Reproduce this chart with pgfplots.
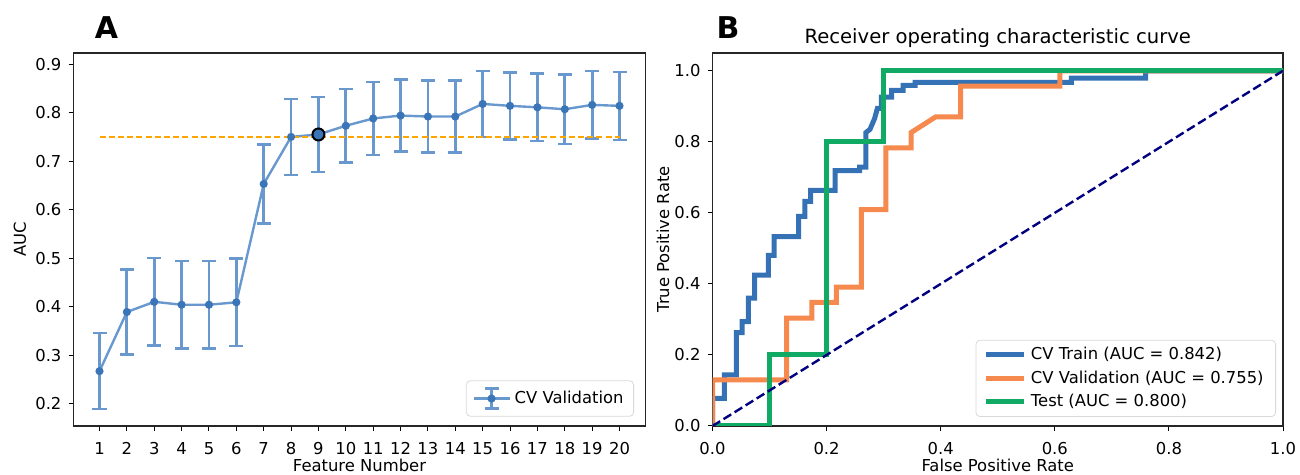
\documentclass[border=0pt]{standalone}
\usepackage{fontspec}
\setmainfont{DejaVu Sans}
\usepackage{pgfplots}
\pgfplotsset{compat=1.18}

\definecolor{errblue}{RGB}{104,152,206}
\definecolor{dotblue}{RGB}{58,117,184}
\definecolor{trainblue}{RGB}{52,114,181}
\definecolor{valorange}{RGB}{245,137,78}
\definecolor{testgreen}{RGB}{16,170,100}
\definecolor{cutorange}{RGB}{255,165,0}

\newcommand{\ticksize}{\fontsize{8.2}{10}\selectfont}

\pgfplotsset{
  panel/.style={
    scale only axis, anchor=south west,
    height=186.5pt,
    tick align=outside, major tick length=2.5pt,
    xtick pos=lower, ytick pos=left,
    tick style={black, line width=0.5pt},
    axis line style={line width=0.6pt, black!85},
    tick label style={font=\ticksize},
    label style={font=\ticksize},
    /pgf/number format/assume math mode=true,
    xticklabel style={anchor=base, yshift=-12pt},
    xlabel style={at={([yshift=-23pt]axis description cs:0.5,0)}, anchor=base},
  },
  onedec/.style={
    /pgf/number format/fixed,
    /pgf/number format/fixed zerofill,
    /pgf/number format/precision=1,
  },
}

\begin{document}
\begin{tikzpicture}
\path[use as bounding box] (0,0) rectangle (650pt,237.5pt);

% panel A: AUC against number of features
\begin{axis}[panel, at={(36.75pt,24.5pt)}, width=286pt,
  xmin=0.05, xmax=20.95, ymin=0.154, ymax=0.923,
  xtick={1,2,3,4,5,6,7,8,9,10,11,12,13,14,15,16,17,18,19,20},
  ytick={0.2,0.3,0.4,0.5,0.6,0.7,0.8,0.9},
  yticklabel style={onedec},
  xlabel={Feature Number}, ylabel={AUC},
  ylabel style={at={([xshift=-26.75pt]axis description cs:0,0.5)}, anchor=center},
  legend style={at={(1,0)}, anchor=south east, xshift=-5.75pt, yshift=4.65pt,
    draw=black!15, rounded corners=2pt, font=\ticksize, inner xsep=3pt, inner ysep=3pt},
]
\addplot[errblue, line width=1.2pt, mark=*, mark size=1.4pt,
  mark options={fill=dotblue, draw=dotblue},
  legend image code/.code={
    \draw[errblue, line width=1.2pt] (0pt,0pt) -- (18pt,0pt);
    \draw[errblue, line width=1.3pt] (9pt,-5pt) -- (9pt,5pt);
    \draw[errblue, line width=1.2pt] (5.5pt,5pt) -- (12.5pt,5pt);
    \draw[errblue, line width=1.2pt] (5.5pt,-5pt) -- (12.5pt,-5pt);
    \fill[dotblue] (9pt,0pt) circle (1.4pt);
  },
  error bars/.cd, y dir=both, y explicit,
  error bar style={errblue, line width=1.4pt},
  error mark options={errblue, line width=1.2pt, mark size=3.5pt, rotate=90},
] coordinates {
  (1,0.267) +- (0,0.0785)
  (2,0.389) +- (0,0.088)
  (3,0.410) +- (0,0.090)
  (4,0.404) +- (0,0.0905)
  (5,0.404) +- (0,0.0905)
  (6,0.409) +- (0,0.090)
  (7,0.653) +- (0,0.0815)
  (8,0.750) +- (0,0.0785)
  (9,0.755) +- (0,0.077)
  (10,0.773) +- (0,0.076)
  (11,0.788) +- (0,0.0755)
  (12,0.794) +- (0,0.074)
  (13,0.792) +- (0,0.074)
  (14,0.792) +- (0,0.074)
  (15,0.818) +- (0,0.068)
  (16,0.814) +- (0,0.069)
  (17,0.811) +- (0,0.070)
  (18,0.807) +- (0,0.0715)
  (19,0.816) +- (0,0.0695)
  (20,0.814) +- (0,0.070)
};
\addlegendentry{CV Validation}
\addplot[cutorange, line width=0.9pt, dash pattern=on 3pt off 1.6pt, forget plot]
  coordinates {(1,0.75) (20,0.75)};
\addplot[only marks, mark=*, mark size=3pt, forget plot,
  mark options={fill=dotblue, draw=black, line width=1pt}]
  coordinates {(9,0.755)};
\end{axis}

% panel B: ROC curves
\begin{axis}[panel, at={(356.25pt,24.5pt)}, width=285.25pt,
  xmin=0, xmax=1, ymin=0, ymax=1.05,
  xtick={0,0.2,0.4,0.6,0.8,1}, ytick={0,0.2,0.4,0.6,0.8,1},
  xticklabel style={onedec}, yticklabel style={onedec},
  xlabel={False Positive Rate}, ylabel={True Positive Rate},
  ylabel style={at={([xshift=-24.75pt]axis description cs:0,0.5)}, anchor=center},
  title={Receiver operating characteristic curve},
  every axis title shift=0pt,
  title style={at={(0.5,1)}, anchor=base, yshift=4.5pt, font=\fontsize{9.8}{12}\selectfont},
  legend style={at={(1,0)}, anchor=south east, xshift=-3.5pt, yshift=4.5pt,
    draw=black!15, rounded corners=2pt, font=\ticksize, row sep=0pt,
    inner xsep=4pt, inner ysep=1.5pt, cells={anchor=west}},
  legend image code/.code={\draw[#1] (0pt,0pt) -- (19pt,0pt);},
  every axis plot/.append style={line width=2.5pt},
]
\addplot[trainblue] coordinates {
  (0,0) (0,0.078) (0.021,0.078) (0.021,0.144) (0.042,0.144) (0.042,0.263)
  (0.052,0.263) (0.052,0.294) (0.063,0.294) (0.063,0.360) (0.074,0.360)
  (0.074,0.425) (0.098,0.425) (0.098,0.480) (0.108,0.480) (0.108,0.533)
  (0.151,0.533) (0.151,0.590) (0.162,0.590) (0.162,0.632) (0.172,0.632)
  (0.172,0.663) (0.215,0.663) (0.215,0.719) (0.258,0.719) (0.258,0.729)
  (0.269,0.729) (0.269,0.826) (0.276,0.835) (0.284,0.865) (0.289,0.894)
  (0.296,0.894) (0.296,0.926) (0.314,0.926) (0.314,0.945) (0.334,0.945)
  (0.334,0.959) (0.355,0.959) (0.355,0.967) (0.629,0.967) (0.629,0.979)
  (0.759,0.979) (0.759,1) (1,1)
};
\addlegendentry{CV Train (AUC = 0.842)}
\addplot[valorange] coordinates {
  (0,0) (0,0.130) (0.130,0.130) (0.130,0.304) (0.174,0.304) (0.174,0.348)
  (0.217,0.348) (0.217,0.391) (0.261,0.391) (0.261,0.609) (0.304,0.609)
  (0.304,0.783) (0.348,0.783) (0.348,0.826) (0.391,0.870) (0.435,0.870)
  (0.435,0.957) (0.609,0.957) (0.609,1) (1,1)
};
\addlegendentry{CV Validation (AUC = 0.755)}
\addplot[testgreen] coordinates {
  (0,0) (0.1,0) (0.1,0.2) (0.2,0.2) (0.2,0.8) (0.3,0.8) (0.3,1) (1,1)
};
\addlegendentry{Test (AUC = 0.800)}
\addplot[color={rgb,255:red,0;green,0;blue,128}, line width=1.2pt,
  dash pattern=on 4.5pt off 2pt, forget plot] coordinates {(0,0) (1,1)};
\end{axis}

\node[font=\fontsize{15}{18}\selectfont\bfseries] at (53.25pt,223.5pt) {A};
\node[font=\fontsize{15}{18}\selectfont\bfseries] at (364pt,223.5pt) {B};
\end{tikzpicture}
\end{document}
